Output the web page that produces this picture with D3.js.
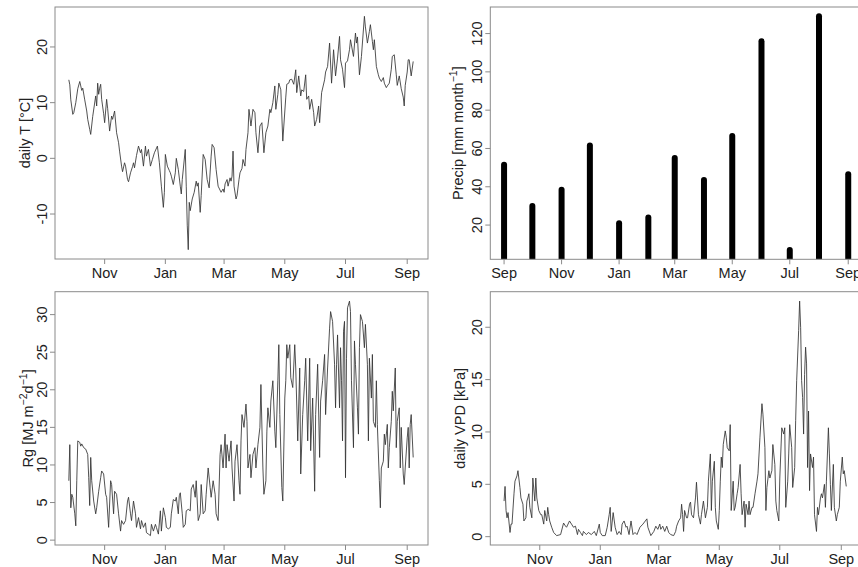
<!DOCTYPE html>
<html>
<head>
<meta charset="utf-8">
<script src="https://cdn.jsdelivr.net/npm/d3@7"></script>
<style>
  body { margin: 0; background: #fff; }
  text { font-family: "Liberation Sans", Arial, sans-serif; fill: #222; }
</style>
</head>
<body>
<div id="chart"></div>
<script>
// daily series: [day offset from seriesStart, value]
const seriesStart = "2013-09-26";
const seriesEnd = "2014-09-08";

const tempDaily = [[0,14.1],[1,13.2],[2,10.5],[4,7.9],[5,8.2],[7,10.0],[9,12.5],[11,13.8],[12,13.0],[13,12.2],[14,12.6],[16,10.5],[18,8.5],[19,7.0],[21,5.2],[22,4.3],[24,7.5],[27,11.2],[28,9.4],[29,13.5],[30,11.5],[31,12.6],[32,13.3],[33,10.6],[35,8.0],[36,6.4],[38,10.6],[39,9.0],[41,4.9],[43,7.6],[44,7.0],[46,8.5],[48,4.6],[50,2.8],[51,1.3],[53,-1.4],[54,-2.4],[56,-0.8],[57,-1.4],[59,-3.8],[60,-4.2],[62,-2.6],[64,-1.5],[65,-0.8],[66,-1.7],[68,0.5],[70,2.2],[72,1.0],[73,1.6],[75,-1.4],[77,2.2],[78,0.4],[80,1.6],[82,-1.4],[84,-0.2],[86,1.0],[89,2.2],[91,-0.8],[93,-5.0],[95,-8.8],[96,-6.1],[97,0.7],[99,-1.4],[101,-2.2],[102,-2.6],[103,-3.2],[105,-4.7],[107,-2.6],[108,0.0],[110,-2.0],[112,-5.0],[113,-6.4],[114,-3.8],[117,1.6],[118,-5.0],[119,-12.0],[120,-16.4],[121,-7.9],[122,-9.4],[124,-7.3],[126,-6.1],[128,-4.1],[129,-5.0],[130,-4.4],[132,-9.7],[133,-6.7],[135,0.7],[137,-0.2],[139,-3.8],[141,-5.3],[143,0.4],[144,2.5],[146,1.9],[148,-2.0],[150,-5.0],[153,-6.1],[155,-5.5],[156,-6.1],[157,-4.6],[159,-3.8],[160,-5.0],[162,-3.5],[163,-4.1],[164,-3.2],[165,1.3],[166,-5.0],[168,-7.3],[169,-6.7],[171,-3.8],[172,-2.6],[174,-1.8],[175,-0.2],[177,-1.4],[178,1.6],[180,4.6],[181,8.8],[183,5.8],[185,8.8],[187,8.2],[188,4.6],[190,1.0],[192,5.8],[194,6.4],[196,1.0],[198,4.6],[200,5.8],[202,8.8],[203,8.2],[205,10.0],[207,13.0],[208,8.8],[210,11.5],[211,13.5],[213,12.3],[215,3.1],[216,5.8],[218,11.0],[219,13.3],[221,13.5],[222,14.1],[224,14.2],[226,13.3],[228,15.9],[229,11.8],[231,14.8],[233,11.2],[234,12.3],[236,12.0],[238,15.0],[239,10.6],[241,11.2],[242,8.8],[244,10.6],[246,8.2],[247,5.8],[249,7.0],[251,9.4],[252,6.4],[254,11.8],[257,14.1],[258,15.5],[260,16.5],[262,20.7],[264,13.5],[266,19.5],[268,14.8],[270,18.0],[272,21.9],[273,17.7],[275,16.0],[277,12.7],[278,17.1],[280,17.5],[282,19.5],[283,21.3],[286,18.3],[288,22.5],[289,20.7],[290,21.8],[292,15.0],[294,18.3],[297,25.5],[298,23.6],[300,20.7],[302,22.8],[303,24.0],[305,21.0],[306,19.5],[307,21.3],[309,16.5],[311,15.0],[312,14.4],[314,13.8],[316,14.5],[317,13.5],[319,12.7],[320,13.0],[322,13.5],[324,16.0],[325,18.3],[327,18.6],[329,15.0],[330,13.1],[332,14.8],[334,12.5],[336,11.0],[337,9.4],[338,13.1],[340,15.5],[341,17.7],[342,17.7],[344,14.8],[346,17.4]];

const rgDaily = [[0,7.9],[1,12.7],[2,4.3],[3,6.1],[4,5.7],[6,3.5],[7,1.9],[8,7.9],[9,13.2],[11,13.0],[12,12.5],[13,12.8],[15,12.3],[17,12.1],[19,11.4],[20,8.3],[21,4.6],[22,11.0],[23,7.9],[25,5.2],[27,3.5],[28,4.3],[30,6.5],[32,8.3],[33,9.2],[35,8.8],[37,6.1],[38,5.7],[40,1.7],[42,7.9],[43,7.4],[45,3.5],[46,6.5],[48,6.1],[50,3.5],[52,1.2],[53,2.6],[55,2.1],[57,2.6],[59,5.2],[60,5.7],[62,3.5],[63,2.6],[65,5.2],[67,3.5],[68,1.7],[70,3.0],[72,1.5],[73,2.6],[75,1.7],[77,2.3],[78,1.0],[80,0.8],[82,0.6],[83,2.1],[85,1.2],[87,2.1],[88,1.7],[90,0.8],[92,3.9],[93,1.2],[95,4.3],[97,3.0],[98,1.7],[100,1.5],[102,1.7],[103,3.5],[105,5.4],[107,5.2],[108,5.7],[110,3.5],[111,5.9],[112,6.3],[114,3.5],[115,1.7],[117,2.1],[118,3.9],[120,4.1],[122,3.9],[123,6.8],[125,7.4],[127,5.7],[128,7.9],[130,2.6],[132,3.5],[133,7.4],[135,3.5],[137,3.9],[138,6.1],[140,9.6],[142,7.0],[143,5.7],[145,7.9],[147,6.1],[148,3.5],[150,2.6],[152,11.4],[153,12.7],[155,9.6],[157,14.1],[158,9.6],[159,12.7],[161,10.5],[163,13.2],[164,9.6],[166,5.2],[167,10.5],[169,12.7],[171,7.9],[172,6.1],[173,13.2],[174,16.7],[176,15.0],[178,18.1],[179,15.8],[180,9.6],[182,11.4],[183,8.3],[185,11.4],[187,12.3],[188,9.6],[190,12.7],[192,15.0],[193,20.7],[195,9.6],[196,6.1],[198,7.9],[199,14.5],[200,17.6],[202,15.0],[203,18.5],[205,21.2],[207,14.5],[208,12.3],[210,21.2],[211,26.0],[212,16.7],[214,7.0],[215,5.2],[217,18.9],[218,21.2],[219,26.0],[220,24.2],[222,26.0],[223,21.6],[225,20.3],[227,26.0],[228,22.9],[230,13.2],[232,22.9],[233,8.8],[235,16.7],[237,21.2],[238,24.2],[240,13.2],[242,24.2],[243,11.9],[245,18.9],[247,6.5],[248,16.7],[250,23.4],[252,11.0],[253,18.5],[255,21.2],[257,24.7],[258,16.7],[260,22.9],[262,28.2],[263,30.4],[265,29.1],[267,23.4],[268,17.6],[269,23.4],[270,27.3],[272,17.6],[273,25.6],[274,21.2],[275,13.2],[276,27.8],[277,29.1],[278,8.3],[279,24.2],[280,30.9],[282,31.8],[283,30.4],[284,21.2],[286,12.3],[287,26.5],[288,23.4],[290,17.6],[291,14.1],[292,25.6],[293,30.0],[295,29.1],[297,25.6],[298,28.7],[300,23.4],[301,13.2],[302,24.2],[304,18.9],[305,24.7],[306,15.8],[308,15.0],[309,21.2],[310,15.4],[312,7.9],[313,4.3],[314,9.6],[316,10.5],[317,14.1],[318,12.7],[320,15.4],[321,9.6],[322,12.3],[324,15.8],[325,19.8],[326,17.2],[328,22.9],[329,12.3],[330,15.8],[332,17.6],[333,9.6],[334,15.0],[336,8.8],[337,7.4],[338,9.6],[340,13.6],[341,15.0],[342,9.6],[343,15.4],[344,16.7],[346,11.0]];

const vpdDaily = [[0,3.4],[1,4.8],[2,2.5],[3,1.8],[4,2.3],[6,0.4],[7,1.2],[8,1.2],[10,4.1],[11,5.3],[13,5.8],[14,6.3],[16,4.7],[17,3.7],[19,3.1],[20,1.5],[22,1.8],[23,3.4],[24,3.7],[25,4.1],[26,2.8],[28,1.8],[29,5.6],[31,3.4],[32,5.6],[33,3.7],[35,2.5],[37,2.1],[38,2.1],[40,1.2],[41,2.5],[43,1.5],[44,2.8],[45,2.1],[46,1.5],[48,0.9],[50,0.4],[53,0.1],[57,0.2],[60,1.3],[62,1.0],[63,0.9],[66,1.5],[68,1.2],[70,0.9],[72,1.0],[74,0.2],[75,0.7],[77,0.4],[79,0.1],[80,0.5],[83,0.2],[85,0.4],[88,0.2],[91,0.5],[93,0.1],[96,1.2],[97,0.4],[99,0.1],[102,0.1],[104,0.9],[106,2.1],[107,2.8],[108,0.5],[110,2.3],[112,0.9],[114,0.2],[116,0.5],[118,0.2],[119,1.2],[121,1.5],[123,0.9],[124,1.0],[126,0.2],[128,1.5],[130,0.2],[132,0.4],[134,0.2],[137,0.9],[140,1.2],[144,1.7],[145,0.9],[148,0.1],[151,0.5],[153,1.0],[155,0.7],[157,1.2],[158,0.7],[160,1.0],[162,0.5],[164,1.0],[166,0.4],[168,0.2],[171,0.1],[173,0.5],[174,1.0],[176,1.5],[178,1.8],[179,3.1],[180,2.1],[181,0.5],[182,2.5],[184,1.8],[185,1.8],[187,3.1],[188,3.3],[189,2.1],[191,1.8],[193,3.7],[194,5.2],[196,2.1],[198,1.2],[199,2.1],[201,3.4],[203,1.8],[205,2.8],[206,5.3],[208,7.9],[209,2.5],[210,5.3],[212,7.2],[213,2.8],[214,1.5],[216,0.7],[217,2.5],[218,5.3],[219,7.6],[220,6.6],[221,8.8],[223,10.1],[224,9.5],[225,8.5],[227,8.2],[228,10.7],[229,2.5],[231,5.3],[232,2.5],[233,2.8],[235,4.1],[236,4.7],[238,6.9],[239,4.1],[240,2.1],[242,3.4],[243,0.9],[244,3.1],[246,2.1],[247,3.4],[248,2.1],[250,2.8],[251,2.8],[253,4.1],[255,5.3],[256,6.0],[258,9.5],[260,12.7],[261,11.7],[263,8.5],[264,2.5],[265,4.7],[267,6.3],[268,5.6],[270,6.3],[271,8.8],[273,6.9],[274,3.4],[275,2.5],[277,1.5],[278,5.6],[280,10.4],[282,9.8],[283,10.4],[284,2.8],[286,5.3],[287,7.9],[288,10.7],[290,8.5],[291,4.7],[293,6.6],[294,11.1],[295,14.9],[297,19.7],[298,22.5],[299,20.0],[300,14.9],[301,13.3],[302,9.8],[303,15.5],[304,18.1],[305,16.5],[306,6.6],[307,12.0],[308,4.4],[309,7.9],[311,6.6],[312,7.6],[313,2.1],[315,0.5],[316,2.8],[317,2.1],[319,3.7],[320,4.1],[321,3.7],[323,5.0],[324,2.8],[325,5.3],[327,10.4],[328,7.9],[329,5.0],[330,2.5],[332,6.9],[333,2.8],[335,1.5],[336,2.1],[338,2.8],[339,5.3],[341,7.6],[342,6.0],[343,6.3],[345,4.8]];

// monthly precipitation
const precipMonths = ["2013-09-01","2013-10-01","2013-11-01","2013-12-01","2014-01-01","2014-02-01","2014-03-01","2014-04-01","2014-05-01","2014-06-01","2014-07-01","2014-08-01","2014-09-01"];
const precipValues = [51.5, 30, 38.5, 61.5, 21, 24, 55, 43.5, 66.5, 116, 7, 129, 46.5];

// tick labels
const dailyTicks = ["2013-11-01","2014-01-01","2014-03-01","2014-05-01","2014-07-01","2014-09-01"];
const monthlyTicks = ["2013-09-01","2013-11-01","2014-01-01","2014-03-01","2014-05-01","2014-07-01","2014-09-01"];
const tempTicks = [-10, 0, 10, 20];
const precipTicks = [20, 40, 60, 80, 100, 120];
const rgTicks = [0, 5, 10, 15, 20, 25, 30];
const vpdTicks = [0, 5, 10, 15, 20];

const width = 858, height = 567;
const parse = d3.timeParse("%Y-%m-%d");
const monthName = d3.timeFormat("%b");
const start = parse(seriesStart);
const end = parse(seriesEnd);

// R style axis range: data range plus 4% on each side
function pad(lo, hi) {
  const p = (hi - lo) * 0.04;
  return [lo - p, hi + p];
}

const svg = d3.select("#chart").append("svg")
  .attr("width", width)
  .attr("height", height)
  .style("display", "block");

const frameColor = "#8a8a8a";
const fontSize = 14.5;

function panel(id, box, x, y, xTicks, yTicks, ylab, labOffset) {
  const g = svg.append("g");

  g.append("clipPath").attr("id", "clip-" + id)
    .append("rect")
    .attr("x", box.l).attr("y", box.t)
    .attr("width", box.r - box.l).attr("height", box.b - box.t);

  // x ticks
  xTicks.forEach(t => {
    const d = parse(t);
    const px = x(d);
    g.append("line")
      .attr("x1", px).attr("x2", px)
      .attr("y1", box.b).attr("y2", box.b + 5)
      .attr("stroke", frameColor);
    g.append("text")
      .attr("x", px).attr("y", box.b + 18.5)
      .attr("text-anchor", "middle")
      .attr("font-size", fontSize)
      .text(monthName(d));
  });

  // y ticks, labels parallel to the axis
  yTicks.forEach(t => {
    const py = y(t);
    g.append("line")
      .attr("x1", box.l - 5).attr("x2", box.l)
      .attr("y1", py).attr("y2", py)
      .attr("stroke", frameColor);
    g.append("text")
      .attr("transform", `translate(${box.l - 8},${py}) rotate(-90)`)
      .attr("text-anchor", "middle")
      .attr("font-size", fontSize)
      .text(t);
  });

  // y axis title, pieces marked sup are superscripts
  const lab = g.append("text")
    .attr("transform", `translate(${box.l - labOffset},${(box.t + box.b) / 2}) rotate(-90)`)
    .attr("text-anchor", "middle")
    .attr("font-size", fontSize);
  let raised = false;
  ylab.forEach(part => {
    const s = lab.append("tspan").text(part.t);
    if (part.sup && !raised) { s.attr("dy", -6).attr("font-size", 10.5); raised = true; }
    else if (part.sup) { s.attr("font-size", 10.5); }
    else if (raised) { s.attr("dy", 6); raised = false; }
  });

  return g;
}

function frame(g, box) {
  g.append("rect")
    .attr("x", box.l).attr("y", box.t)
    .attr("width", box.r - box.l).attr("height", box.b - box.t)
    .attr("fill", "none")
    .attr("stroke", frameColor);
}

function dailyPanel(id, box, series, ticks, ylab, labOffset) {
  const x = d3.scaleTime()
    .domain(pad(+start, +end).map(v => new Date(v)))
    .range([box.l, box.r]);
  const ext = d3.extent(series, d => d[1]);
  const y = d3.scaleLinear().domain(pad(ext[0], ext[1])).range([box.b, box.t]);

  const g = panel(id, box, x, y, dailyTicks, ticks, ylab, labOffset);

  const line = d3.line()
    .x(d => x(d3.timeDay.offset(start, d[0])))
    .y(d => y(d[1]));

  g.append("path")
    .datum(series)
    .attr("clip-path", `url(#clip-${id})`)
    .attr("fill", "none")
    .attr("stroke", "#333")
    .attr("stroke-width", 0.85)
    .attr("d", line);

  frame(g, box);
}

const boxes = {
  temp:   { l: 55,    r: 428, t: 7,     b: 259 },
  precip: { l: 490.3, r: 862, t: 7,     b: 259.3 },
  rg:     { l: 55,    r: 428, t: 291.7, b: 545 },
  vpd:    { l: 490.3, r: 862, t: 291.7, b: 545 }
};

dailyPanel("temp", boxes.temp, tempDaily, tempTicks,
  [{ t: "daily T [°C]" }], 25);

dailyPanel("rg", boxes.rg, rgDaily, rgTicks,
  [{ t: "Rg [MJ m" }, { t: "−2", sup: true }, { t: "d" }, { t: "−1", sup: true }, { t: "]" }], 22);

dailyPanel("vpd", boxes.vpd, vpdDaily, vpdTicks,
  [{ t: "daily VPD [kPa]" }], 25);

// precipitation as R type = "h" bars
(function () {
  const box = boxes.precip;
  const dates = precipMonths.map(parse);
  const x = d3.scaleTime()
    .domain(pad(+dates[0], +dates[dates.length - 1]).map(v => new Date(v)))
    .range([box.l, box.r]);
  const ext = d3.extent(precipValues);
  const y = d3.scaleLinear().domain(pad(ext[0], ext[1])).range([box.b, box.t]);

  const g = panel("precip", box, x, y, monthlyTicks, precipTicks,
    [{ t: "Precip [mm month" }, { t: "−1", sup: true }, { t: "]" }], 27);

  g.append("g")
    .attr("clip-path", "url(#clip-precip)")
    .selectAll("line")
    .data(precipValues)
    .join("line")
    .attr("x1", (d, i) => x(dates[i]))
    .attr("x2", (d, i) => x(dates[i]))
    .attr("y1", y(0))
    .attr("y2", d => y(d))
    .attr("stroke", "#000")
    .attr("stroke-width", 6)
    .attr("stroke-linecap", "round");

  frame(g, box);
})();
</script>
</body>
</html>
